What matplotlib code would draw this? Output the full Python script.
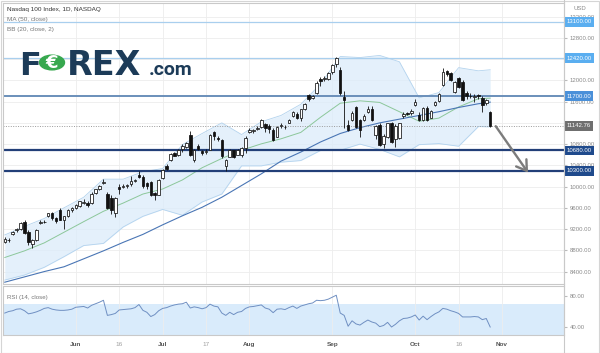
import matplotlib
matplotlib.use('Agg')
import matplotlib.pyplot as plt
from matplotlib.patches import Rectangle, Circle
from matplotlib.lines import Line2D
import numpy as np
import pandas as pd

plt.rcParams['font.family'] = ['Liberation Sans', 'DejaVu Sans']

# %% data: Nasdaq 100 daily candles, 5 May .. 28 Oct 2020
FIRST_DAY = '2020-05-05'
HOLIDAYS = ['2020-05-25', '2020-07-03', '2020-09-07', '2020-11-26']

opens = [8960, 9000, 9110, 9180, 9200, 9340, 9140, 8920, 8990, 9310, 9340, 9440, 9500, 9400, 9560, 9380, 9450, 9560,
         9590, 9640, 9700, 9690, 9690, 9880, 9950, 10060, 9870, 9780, 9500, 9990, 10000, 10010, 10040, 10110, 10210, 10190,
         10070, 10090, 9880, 9850, 10160, 10390, 10500, 10630, 10600, 10710, 10750, 10970, 10500, 10760, 10670, 10650,
         10690, 11020, 10920, 10880, 10380, 10560, 10680, 10600, 10600, 10720, 11030, 11050, 11080, 11120, 11180, 11150,
         11060, 10940, 11150, 11130, 11200, 11330, 11360, 11290, 11460, 11720, 11660, 11760, 12030, 12020, 12030, 12160,
         12300, 12200, 11690, 11160, 11250, 11500, 11250, 11260, 11410, 11455, 10970, 11160, 10800, 10940, 11190, 10900,
         10910, 11320, 11380, 11390, 11540, 11350, 11260, 11480, 11300, 11540, 11620, 11910, 12170, 12130, 11790, 12040,
         11975, 11756, 11710, 11690, 11720, 11660, 11570, 11410]
highs = [9050, 9040, 9170, 9220, 9330, 9370, 9180, 9020, 9200, 9370, 9370, 9510, 9520, 9420, 9590, 9450, 9580, 9620,
         9670, 9730, 9760, 9720, 9890, 9960, 10030, 10140, 9890, 9850, 9800, 10050, 10050, 10050, 10200, 10150, 10290, 10220,
         10090, 10100, 9900, 10140, 10330, 10420, 10630, 10660, 10700, 10800, 10840, 11040, 10700, 10800, 10690, 10700,
         10990, 11040, 10960, 10900, 10520, 10700, 10690, 10710, 10740, 10950, 11100, 11090, 11140, 11270, 11200, 11170,
         11100, 11140, 11190, 11160, 11270, 11420, 11400, 11470, 11580, 11740, 11720, 11980, 12060, 12080, 12150, 12300,
         12440, 12250, 11800, 11250, 11420, 11520, 11280, 11360, 11520, 11520, 11160, 11190, 10990, 11200, 11210, 11170,
         11200, 11400, 11410, 11470, 11640, 11400, 11490, 11520, 11440, 11620, 11760, 12230, 12200, 12160, 11990, 12060,
         12000, 11800, 11760, 11750, 11740, 11700, 11650, 11430]
lows = [8930, 8950, 9090, 9150, 9180, 9110, 8900, 8840, 8970, 9290, 9310, 9420, 9370, 9320, 9370, 9200, 9430, 9530,
        9570, 9620, 9680, 9620, 9680, 9860, 9930, 10040, 9580, 9480, 9420, 9870, 9980, 9980, 10010, 10080, 10160, 9980,
        9960, 9830, 9750, 9840, 10150, 10320, 10490, 10570, 10580, 10650, 10720, 10580, 10470, 10680, 10590, 10620,
        10680, 10880, 10860, 10540, 10290, 10550, 10540, 10590, 10560, 10640, 11000, 11010, 11060, 11100, 11020, 11000,
        10850, 10930, 11110, 11080, 11190, 11310, 11270, 11240, 11440, 11620, 11640, 11750, 11900, 11990, 12010, 12120,
        12260, 11730, 11100, 11040, 11230, 11100, 10930, 11240, 11380, 11230, 10900, 10760, 10720, 10920, 10830, 10750,
        10890, 11300, 11340, 11350, 11510, 11230, 11240, 11230, 11290, 11510, 11600, 11890, 12080, 11980, 11760, 11860,
        11610, 11650, 11660, 11600, 11640, 11400, 11540, 11130]
closes = [9010, 8990, 9140, 9200, 9310, 9120, 8960, 9000, 9180, 9340, 9330, 9500, 9400, 9350, 9380, 9440, 9560, 9600,
          9650, 9720, 9710, 9650, 9870, 9950, 10010, 10090, 9590, 9560, 9780, 9960, 10020, 10030, 10110, 10130, 10190, 10010,
          10020, 9840, 9840, 10120, 10310, 10340, 10610, 10580, 10690, 10760, 10830, 10600, 10690, 10710, 10640, 10670,
          10970, 10950, 10900, 10570, 10500, 10690, 10560, 10690, 10720, 10910, 11060, 11070, 11110, 11250, 11100, 11090,
          10880, 11120, 11150, 11120, 11250, 11400, 11290, 11460, 11550, 11640, 11700, 11960, 11990, 12050, 12140, 12290,
          12420, 11760, 11630, 11065, 11390, 11130, 11070, 11320, 11455, 11250, 11140, 10780, 10960, 11190, 10845, 11140,
          11190, 11370, 11360, 11420, 11600, 11260, 11480, 11260, 11420, 11600, 11740, 12160, 12120, 12010, 11975, 11880,
          11630, 11700, 11700, 11710, 11700, 11540, 11630, 11142.76]

rsi14 = [58, 60, 61, 63, 63.5, 61, 57, 58, 59.5, 61.5, 64, 65, 63, 62, 61.5, 61.5, 62, 63,
         65.5, 66, 66.5, 64.5, 68, 70, 72, 74.5, 55, 56, 57.5, 62, 62.5, 63, 63.5, 65, 69, 61.5,
         59, 53.5, 56, 61, 64, 65, 67, 68.5, 69.5, 70, 72, 64.5, 66, 65, 63.5, 65,
         69.5, 67, 66, 58, 55, 59, 56, 59, 60, 64, 66, 66.5, 67.5, 68.5, 64.5, 63,
         58.5, 63, 63.5, 62.5, 65, 67, 64, 67, 68.5, 70, 71, 74.5, 74, 74.5, 76, 78.5,
         81, 58, 55, 41, 48, 44, 42.5, 46, 49, 46.5, 45, 40.5, 42, 46, 40, 43.5,
         48, 51, 51.5, 53, 55.5, 49, 54, 49.5, 53.5, 57, 59.5, 64, 63, 61, 59.5, 57.5,
         53, 53, 53, 53.5, 53, 49.5, 51, 40]

# indicator values read every fifth session
ind_dates = ['2020-05-05', '2020-05-12', '2020-05-19', '2020-05-27', '2020-06-03', '2020-06-10', '2020-06-17',
             '2020-06-24', '2020-07-01', '2020-07-09', '2020-07-16', '2020-07-23', '2020-07-30', '2020-08-06',
             '2020-08-13', '2020-08-20', '2020-08-27', '2020-09-03', '2020-09-11', '2020-09-18', '2020-09-25',
             '2020-10-02', '2020-10-09', '2020-10-16', '2020-10-23', '2020-10-28']
ma50 = [8200, 8300, 8400, 8490, 8640, 8790, 8950, 9100, 9280, 9450, 9610, 9800, 10020, 10240, 10480, 10650,
        10840, 11000, 11110, 11200, 11270, 11340, 11410, 11490, 11560, 11590]
bb_upper = [9090, 9250, 9400, 9600, 9800, 10140, 10140, 10280, 10340, 10790, 11000, 11200, 10980, 11220, 11340, 11550,
            11930, 12450, 12430, 12470, 12350, 11670, 11770, 12240, 12180, 12200]
bb_basis = [8665, 8790, 8940, 9140, 9340, 9535, 9690, 9860, 9955, 10125, 10355, 10530, 10685, 10805, 10900, 11020,
            11305, 11570, 11615, 11585, 11410, 11230, 11290, 11500, 11655, 11665]
bb_lower = [8240, 8335, 8480, 8680, 8890, 8930, 9240, 9440, 9570, 9460, 9710, 9860, 10390, 10390, 10460, 10490,
            10680, 10685, 10800, 10700, 10560, 10790, 10810, 10760, 11130, 11125]

levels = [13100, 12420, 11700, 10680, 10300]
price_ticks = [8400, 8800, 9200, 9600, 10000, 10400, 10800, 11200, 11600, 12000, 12400, 12800, 13200]
hidden_ticks = [11200, 12400]   # covered by the level boxes in the original
date_ticks = ['2020-06-01', '2020-06-16', '2020-07-01', '2020-07-17', '2020-08-03', '2020-09-01',
              '2020-10-01', '2020-10-16', '2020-11-02']
date_labels = ['Jun', '16', 'Jul', '17', 'Aug', 'Sep', 'Oct', '16', 'Nov']
arrow_from = ('2020-10-29', 11180)
arrow_to = ('2020-11-11', 10220)

# %% calendar -> bar position
cal = pd.bdate_range(FIRST_DAY, '2020-11-30', freq='C', holidays=HOLIDAYS)

def bar_pos(dates):
  return cal.get_indexer(pd.to_datetime(dates))

W, H = 600, 353
def fx(px): return px / W
def fy(py): return 1 - py / H

fig = plt.figure(figsize=(6, 3.53), dpi=100)
ax = fig.add_axes([fx(3), fy(284), fx(561), 281 / H])
rsi = fig.add_axes([fx(3), fy(335), fx(561), 49 / H], sharex=ax)

grid_c = '#ededed'
edge_c = '#c9c9c9'
tick_c = '#8a8a8a'

x = np.arange(len(closes))
o, h, l, c = map(np.array, (opens, highs, lows, closes))
ix = bar_pos(ind_dates)
tx = bar_pos(date_ticks)

# bands and averages
ax.fill_between(ix, bb_lower, bb_upper, color='#dcecfa', alpha=0.75, lw=0, zorder=1)
ax.plot(ix, bb_upper, color='#b3d3ee', lw=0.6, zorder=1.5)
ax.plot(ix, bb_lower, color='#b3d3ee', lw=0.6, zorder=1.5)
ax.plot(ix, bb_basis, color='#8cc79a', lw=0.7, zorder=2)
ax.plot(ix, ma50, color='#4a76b5', lw=0.8, zorder=2)

# horizontal levels
level_style = {13100: ('#a9cfee', 0.9, '#5aaef0'), 12420: ('#a9cfee', 0.9, '#5aaef0'),
               11700: ('#6a8fba', 1.4, '#4a90d9'), 10680: ('#223f78', 1.6, '#1f4a8c'),
               10300: ('#223f78', 1.6, '#1f4a8c')}
for lv in levels:
  lc, lw, _ = level_style[lv]
  ax.axhline(lv, color=lc, lw=lw, zorder=2.2)
ax.axhline(closes[-1], color='#9a9a9a', lw=0.7, ls=(0, (1, 1.5)), zorder=2.2)

# candles
up = c >= o
ax.vlines(x, l, h, color='#111111', lw=0.6, zorder=3)
body = np.maximum(np.abs(c - o), 8)
ax.bar(x[up], body[up], bottom=np.minimum(o, c)[up], width=0.64, color='white', edgecolor='#111111', lw=0.55, zorder=4)
ax.bar(x[~up], body[~up], bottom=np.minimum(o, c)[~up], width=0.64, color='#111111', edgecolor='#111111', lw=0.55, zorder=4)

# arrow
ax.annotate('', xy=(bar_pos([arrow_to[0]])[0], arrow_to[1]), xytext=(bar_pos([arrow_from[0]])[0], arrow_from[1]),
            arrowprops=dict(arrowstyle='->,head_length=0.7,head_width=0.45', color='#7c7c7c', lw=1.7), zorder=6)

ax.set_xlim(-0.45, 141.7)
ax.set_ylim(8166, 13457)
ax.yaxis.tick_right()
ax.set_yticks(price_ticks)
ax.set_yticklabels(['' if t in hidden_ticks else f'{t:.2f}' for t in price_ticks])
ax.tick_params(axis='y', length=2.5, color='#bbbbbb', labelsize=4.3, labelcolor=tick_c, pad=1.5)
ax.tick_params(axis='x', length=0, labelbottom=False)
ax.set_xticks(tx)
ax.grid(True, color=grid_c, lw=0.6)
ax.set_axisbelow(True)

for lv in levels:
  ax.text(1.004, lv, f'{lv:.2f}', transform=ax.get_yaxis_transform(), fontsize=4.3, color='white',
          va='center', ha='left', clip_on=False, zorder=10,
          bbox=dict(boxstyle='square,pad=0.4', fc=level_style[lv][2], ec='none'))
ax.text(1.004, closes[-1], f'{closes[-1]:.2f}', transform=ax.get_yaxis_transform(), fontsize=4.3, color='white',
        va='center', ha='left', clip_on=False, zorder=10,
        bbox=dict(boxstyle='square,pad=0.4', fc='#6f6f6f', ec='none'))

# RSI panel
rsi.axhspan(30, 70, color='#d9ebfb', lw=0, zorder=0)
rsi.plot(x, rsi14, color='#6f8fc2', lw=0.7, zorder=3)
rsi.set_ylim(29.7, 92.9)
rsi.yaxis.tick_right()
rsi.set_yticks([40, 80])
rsi.set_yticklabels(['40.00', '80.00'])
rsi.tick_params(axis='y', length=2.5, color='#bbbbbb', labelsize=4.3, labelcolor=tick_c, pad=1.5)
rsi.set_xticks(tx)
rsi.set_xticklabels(date_labels)
rsi.tick_params(axis='x', length=0, labelsize=4.6, pad=5)
for lab in rsi.get_xticklabels():
  if lab.get_text().isdigit():
    lab.set_color('#a0a0a0')
  else:
    lab.set_color('#555555')
    lab.set_fontweight('bold')
rsi.grid(True, axis='x', color=grid_c, lw=0.6)
rsi.set_axisbelow(True)

for a in (ax, rsi):
  for s in a.spines.values():
    s.set_color(edge_c)
    s.set_linewidth(0.8)

# frame and price-scale separator
fig.add_artist(Rectangle((0.001, 0.001), 0.997, 0.997, transform=fig.transFigure, fill=False, ec='#d5d5d5', lw=0.8))
fig.add_artist(Line2D([fx(564), fx(564)], [0, 1], transform=fig.transFigure, color=edge_c, lw=0.8))

# legend texts
fig.text(fx(7), fy(10), 'Nasdaq 100 Index, 1D, NASDAQ', fontsize=4.6, color='#333333', va='center')
fig.text(fx(7), fy(20), 'MA (50, close)', fontsize=4.6, color='#777777', va='center')
fig.text(fx(7), fy(29), 'BB (20, close, 2)', fontsize=4.6, color='#777777', va='center')
fig.text(fx(7), fy(297), 'RSI (14, close)', fontsize=4.4, color='#777777', va='center')
fig.text(fx(574), fy(8), 'USD', fontsize=4.3, color=tick_c, va='center')

# FOREX.com logo
navy = '#1c3b58'
fig.text(fx(19), fy(75), 'F', fontsize=23, fontweight='bold', color=navy, family='DejaVu Sans', va='baseline')
fig.add_artist(Circle((fx(52), fy(62.5)), 12.5 / W, transform=fig.transFigure, color='#37a84e'))
fig.text(fx(52), fy(62.5), '€', fontsize=13, fontweight='bold', color='white', family='DejaVu Sans',
         ha='center', va='center')
fig.text(fx(67), fy(75), 'REX', fontsize=24, fontweight='bold', color=navy, family='DejaVu Sans', va='baseline')
fig.text(fx(149), fy(75), '.com', fontsize=14, fontweight='bold', color=navy, family='Roboto', va='baseline')

fig.savefig('out.png', dpi=100)
